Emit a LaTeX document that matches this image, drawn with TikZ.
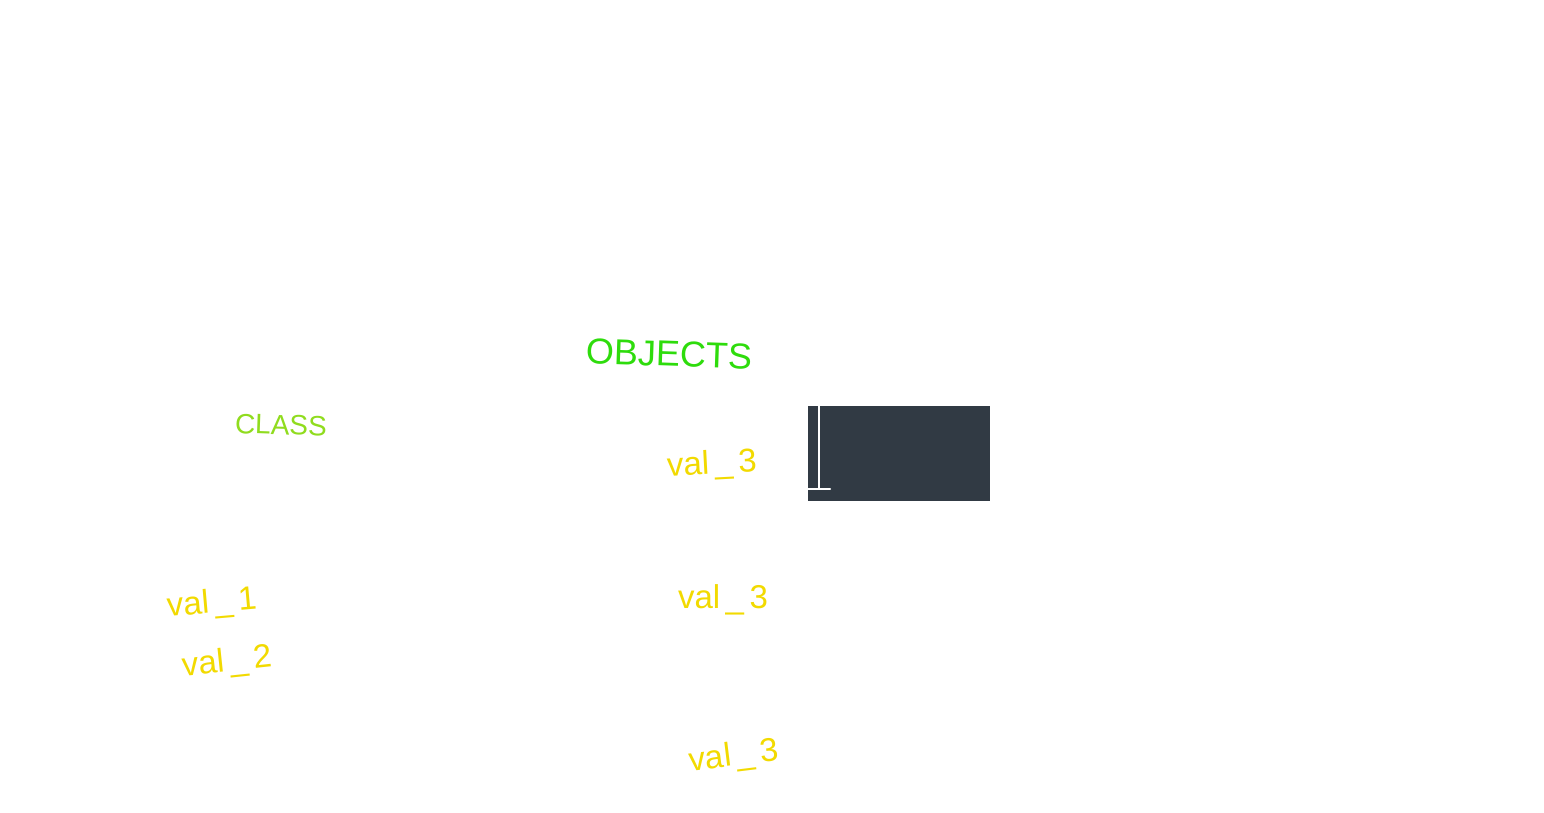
\documentclass[tikz,border=0pt]{standalone}
\usepackage{fontspec}
\setmainfont{Liberation Sans}
\usetikzlibrary{positioning}
\definecolor{objGreen}{HTML}{2EDC0C}
\definecolor{clsGreen}{HTML}{90DC1E}
\definecolor{valYellow}{HTML}{F2DA00}
\definecolor{boxDark}{HTML}{313A44}
\tikzset{
  titulo/.style={text=objGreen, font=\fontsize{36}{36}\selectfont, inner sep=0pt},
  clase/.style={text=clsGreen, font=\fontsize{28}{28}\selectfont, inner sep=0pt},
  valor/.style={text=valYellow, font=\fontsize{33}{33}\selectfont, inner sep=0pt}
}
\begin{document}
\begin{tikzpicture}[x=1pt, y=-1pt]
        \useasboundingbox[fill=white] (0,0) rectangle (1544,813);
        % Titulos
        \node[titulo, rotate=-2] (objetos) at (669,354) {OBJECTS};
        \node[clase, rotate=-2] (clase) at (281,425) {CLASS};
        % Valores
        \node[valor, rotate=5] (val1) at (212,604) {val\,\_\,1};
        \node[valor, rotate=6] (val2) at (227,663) {val\,\_\,2};
        \node[valor, rotate=3] (val3a) at (712,465) {val\,\_\,3};
        \node[valor] (val3b) at (723,600) {val\,\_\,3};
        \node[valor, rotate=7] (val3c) at (734,757) {val\,\_\,3};
        % Caja oscura
        \node[fill=boxDark, minimum width=182pt, minimum height=95pt,
              inner sep=0pt, anchor=north west] (caja) at (808,406) {};
        \coordinate (esq) at (819,489);
        \draw[white, line width=2.2pt, line cap=round]
          (caja.north west -| esq) -- (esq) -- (esq -| caja.west);
        \draw[white, line width=2.2pt, line cap=round] (esq) -- ++(11,0);
      \end{tikzpicture}
\end{document}
